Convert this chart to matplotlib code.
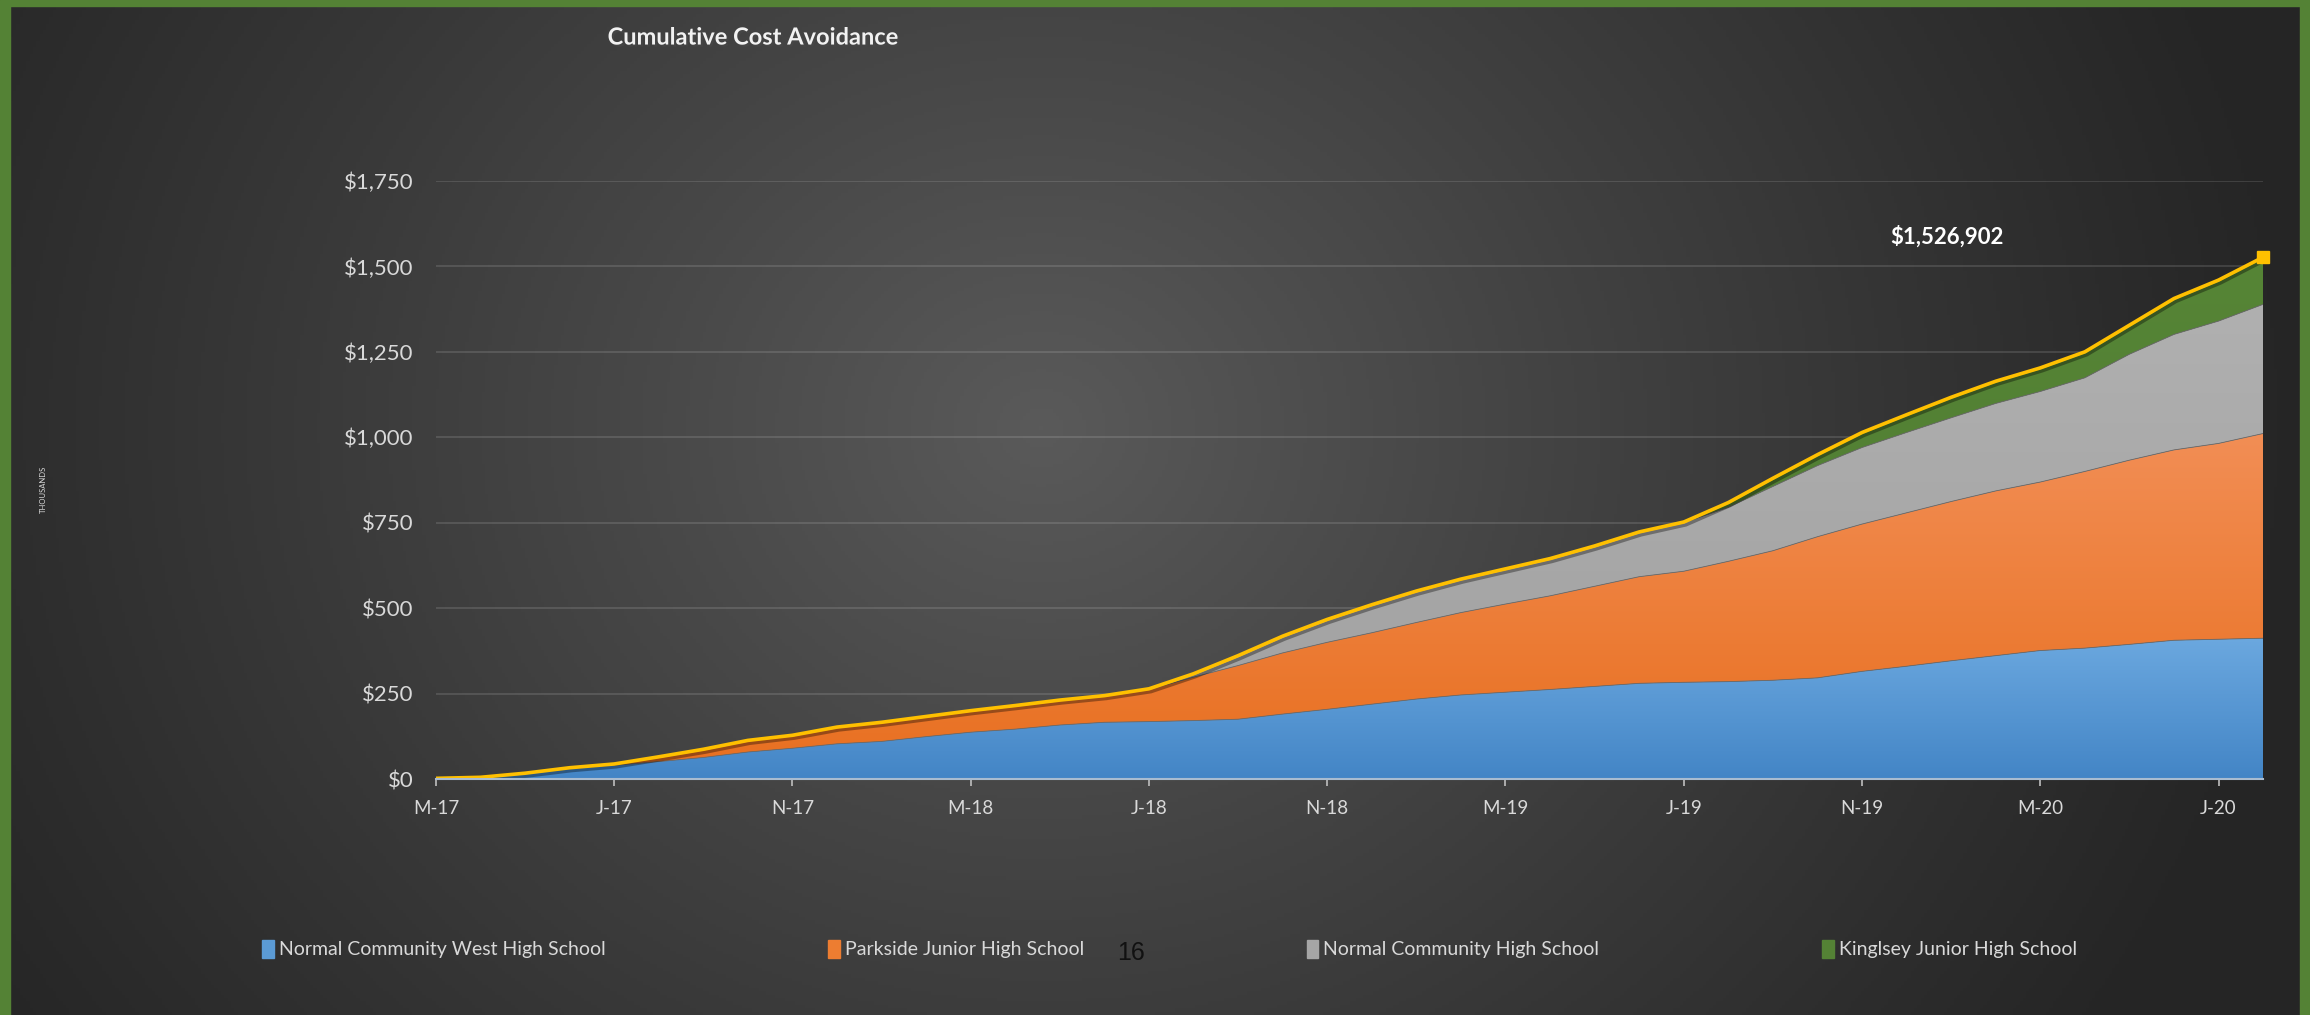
import numpy as np
import matplotlib.pyplot as plt
import matplotlib.patheffects as pe
from matplotlib.colors import LinearSegmentedColormap
from matplotlib.patches import Patch, Rectangle

# cumulative cost avoidance per school, in $ thousands, one point per month (Mar-17 .. Aug-20)
west = [2, 5, 15, 30, 40, 51, 63, 79, 90, 103, 110, 124, 137, 146, 158, 166, 168, 171, 175, 190,
        204, 219, 234, 246, 254, 262, 271, 280, 283, 285, 289, 296, 315, 330, 346, 361, 376, 383,
        394, 406, 409, 412]
parkside = [0, 0, 2, 3, 4, 14, 24, 34, 38, 49, 56, 59, 63, 69, 73, 78, 94, 127, 157, 179,
            196, 209, 224, 241, 258, 274, 293, 312, 325, 352, 379, 413, 431, 449, 466, 482, 493, 517,
            539, 557, 573, 599]
normal = [0, 0, 0, 0, 0, 0, 0, 0, 0, 0, 0, 0, 0, 0, 0, 0, 2, 10, 29, 49,
          67, 82, 92, 98, 103, 109, 118, 131, 142, 158, 188, 208, 224, 235, 245, 256, 265, 274,
          310, 338, 358, 378]
kingsley = [0, 0, 0, 0, 0, 0, 0, 0, 0, 0, 0, 0, 0, 0, 0, 0, 0, 0, 0, 0,
            0, 0, 0, 0, 0, 0, 0, 0, 2, 14, 24, 32, 44, 52, 60, 65, 69, 76,
            85, 105, 120, 138]
names = ["Normal Community West High School", "Parkside Junior High School",
         "Normal Community High School", "Kinglsey Junior High School"]
tick_labels = ["M-17", "J-17", "N-17", "M-18", "J-18", "N-18", "M-19", "J-19", "N-19", "M-20", "J-20"]
y_ticks = [0, 250, 500, 750, 1000, 1250, 1500, 1750]
final_label = "$1,526,902"

colors = ["#5B9BD5", "#ED7D31", "#A5A5A5", "#548235"]
grads = [("#4385C6", "#6BA8DF"), ("#E86F1F", "#F28E55"), ("#A0A0A0", "#B0B0B0"), ("#4E7A31", "#568536")]

plt.rcParams['font.family'] = ['Lato', 'DejaVu Sans']

fig = plt.figure(figsize=(23.1, 10.15), dpi=100)

# dark radial background
bg = fig.add_axes([0, 0, 1, 1], zorder=-10)
H, W = 300, 700
yy, xx = np.mgrid[0:H, 0:W]
d = np.sqrt(((xx / W - 0.45) / 0.55) ** 2 + ((yy / H - 0.42) / 1.1) ** 2)
shade = 0x25 + (0x5a - 0x25) * np.clip(1 - d, 0, 1) ** 1.1
bg.imshow(np.dstack([shade, shade, shade]) / 255, aspect='auto', extent=[0, 1, 0, 1], origin='upper')
bg.set_axis_off()

# green frame
for r in [(0, 0, 0.0045, 1), (0.9955, 0, 0.0045, 1), (0, 0.994, 1, 0.006)]:
    fig.add_artist(Rectangle(r[:2], r[2], r[3], transform=fig.transFigure, color="#548235", zorder=5))

ax = fig.add_axes([0.1887, 0.2325, 0.791, 0.5892])
ax.set_facecolor('none')
x = np.arange(len(west))
layers = [np.array(west), np.array(parkside), np.array(normal), np.array(kingsley)]
polys = ax.stackplot(x, *layers, colors=colors, lw=0)
bottom = np.zeros(len(x))
for poly, layer, (c_bot, c_top) in zip(polys, layers, grads):
    top = bottom + layer
    lo, hi = bottom.min(), max(top.max(), bottom.min() + 1)
    cmap = LinearSegmentedColormap.from_list('g', [c_bot, c_top])
    im = ax.imshow(np.linspace(0, 1, 256).reshape(-1, 1), cmap=cmap, aspect='auto', origin='lower',
                   extent=[0, x[-1], lo, hi], zorder=2)
    im.set_clip_path(poly.get_paths()[0], transform=ax.transData)
    poly.set_visible(False)
    ax.plot(x, top, color='#6b6b6b', lw=0.6, zorder=2.5)
    bottom = top

total = bottom
ax.plot(x, total, color='#FFC000', lw=2.6, zorder=4,
        path_effects=[pe.SimpleLineShadow(offset=(1.5, -2), alpha=0.35), pe.Normal()])
ax.plot(x[-1], total[-1], 's', ms=9, color='#FFC000', zorder=5, clip_on=False)
ax.text(x[-1] - 7.1, 1586, final_label, color='white', fontsize=16, weight='bold',
        ha='center', va='center')

ax.set_xlim(0, x[-1])
ax.set_ylim(0, 1750)
ax.set_yticks(y_ticks)
ax.set_yticklabels([f"${v:,}" for v in y_ticks])
ax.set_xticks(x[::4])
ax.set_xticklabels(tick_labels)
ax.grid(axis='y', color='#ffffff', alpha=0.12, lw=1.5, zorder=0)
ax.set_axisbelow(True)
for s in ['top', 'right', 'left']:
    ax.spines[s].set_visible(False)
ax.spines['bottom'].set_color('#A9BCD0')
ax.spines['bottom'].set_linewidth(1.5)
ax.spines['bottom'].set_zorder(6)
ax.tick_params(axis='y', length=0, pad=16, labelsize=16, labelcolor='#D9D9D9')
ax.tick_params(axis='x', length=5, width=1.2, color='#BFBFBF', pad=10, labelsize=13.5, labelcolor='#D9D9D9')

title = fig.text(0.326, 0.9635, "Cumulative Cost Avoidance", fontsize=17, weight='bold', color='#F2F2F2',
                 ha='center', va='center')
title.set_path_effects([pe.withSimplePatchShadow(offset=(1.5, -1.5), alpha=0.6)])

fig.text(0.019, 0.518, "THOUSANDS", rotation=90, fontsize=5.5, color='#D9D9D9', ha='center', va='center')

handles = [Patch(color=c) for c in colors]
fig.legend(handles, names, loc='center', bbox_to_anchor=(0.5063, 0.065), ncol=4, frameon=False,
           fontsize=14, labelcolor='#D9D9D9', handlelength=0.6, handleheight=1.1, handletextpad=0.25,
           columnspacing=11.45)

fig.text(0.4895, 0.061, "16", fontsize=18, color='#111111', family='Liberation Sans', ha='center', va='center')

fig.savefig('out.png', dpi=100)
